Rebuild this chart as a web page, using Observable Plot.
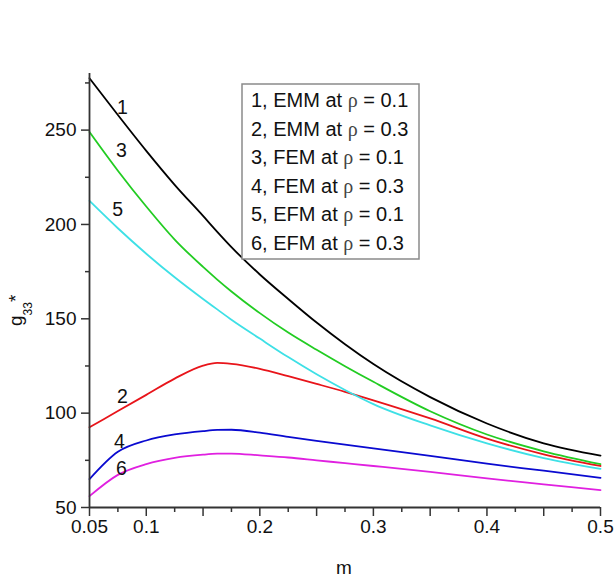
<!DOCTYPE html>
<html>
<head>
<meta charset="utf-8">
<script src="https://cdn.jsdelivr.net/npm/d3@7"></script>
<script src="https://cdn.jsdelivr.net/npm/@observablehq/plot@0.6"></script>
<style>
  html, body { margin: 0; padding: 0; background: #fff; }
  #chart svg { display: block; }
</style>
</head>
<body>
<div id="chart"></div>
<script>
// ---- data ----
const m = [0.05, 0.075, 0.1, 0.125, 0.15, 0.1625, 0.175, 0.2, 0.225, 0.25, 0.275, 0.3, 0.35, 0.4, 0.45, 0.5];

const emm01 = [277.5, 258, 239, 221, 204.5, 196.1, 188, 173.5, 160.5, 148, 136.5, 126, 108.5, 94.5, 84, 77.5];
const emm03 = [92.5, 101.1, 109.7, 118.3, 125.2, 126.6, 126.1, 123.5, 119.6, 115.5, 111.3, 106.8, 97.2, 86.5, 78.2, 72];
const fem01 = [249, 228.5, 209.5, 192, 177.5, 170.8, 164.5, 153, 142.7, 133.6, 124.9, 116.6, 101, 88.7, 79.8, 73];
const fem03 = [65, 79.5, 85.5, 88.7, 90.5, 91.1, 91.2, 89.7, 87.4, 85.3, 83.3, 81.3, 77.4, 73.2, 69.5, 65.7];
const efm01 = [212.5, 198, 184.5, 172, 160.5, 155, 149.5, 139.5, 129.7, 120.6, 112.3, 104.8, 93.5, 84, 76.2, 70.5];
const efm03 = [56, 67.3, 73, 76.3, 78, 78.5, 78.6, 77.6, 76.5, 75, 73.5, 72, 68.9, 65.4, 62.3, 59.2];

const seriesNames = ["1, EMM at ρ = 0.1", "2, EMM at ρ = 0.3", "3, FEM at ρ = 0.1",
                     "4, FEM at ρ = 0.3", "5, EFM at ρ = 0.1", "6, EFM at ρ = 0.3"];
const seriesValues = [emm01, emm03, fem01, fem03, efm01, efm03];
const seriesColors = ["#000000", "#e8141a", "#22cc22", "#0a0ad0", "#3ee0e6", "#e020e0"];

// curve number labels (placed in data coordinates)
const curveLabels = ["1", "3", "5", "2", "4", "6"];
const curveLabelM = [0.0791, 0.0782, 0.0747, 0.0791, 0.0764, 0.0782];
const curveLabelG = [261.6, 238.9, 207.6, 108.9, 85.0, 70.7];

// axis ticks
const xMajorTicks = [0.05, 0.1, 0.15, 0.2, 0.25, 0.3, 0.35, 0.4, 0.45, 0.5];
const xTickLabels = ["0.05", "0.1", "0.2", "0.3", "0.4", "0.5"];
const xMinorTicks = [0.075, 0.125, 0.175, 0.225, 0.275, 0.325, 0.375, 0.425, 0.475];
const yMajorTicks = [50, 100, 150, 200, 250];
const yMinorTicks = [75, 125, 175, 225, 275];

const xDomain = [0.05, 0.5];
const yDomain = [50, 280];

// ---- build ----
const axisColor = "#333";
const font = "'Liberation Sans', Arial, Helvetica, sans-serif";

const lineMarks = seriesValues.map((vals, i) =>
  Plot.line(vals.map((g, j) => ({m: m[j], g})), {
    x: "m", y: "g", stroke: seriesColors[i], strokeWidth: 1.8, curve: "monotone-x"
  })
);

const labelData = curveLabels.map((t, i) => ({t, m: curveLabelM[i], g: curveLabelG[i]}));

const fmtX = d => {
  const s = String(+(+d).toFixed(3));
  return xTickLabels.includes(s) ? s : "";
};

const svg = Plot.plot({
  width: 614,
  height: 582,
  marginLeft: 89,
  marginRight: 14,
  marginTop: 73,
  marginBottom: 75,
  style: {fontFamily: font, fontSize: "19px", color: "#111", background: "#fff"},
  x: {domain: xDomain},
  y: {domain: yDomain},
  marks: [
    ...lineMarks,
    Plot.text(labelData, {x: "m", y: "g", text: "t", fontSize: 19.5, fill: "#111", textAnchor: "middle", lineAnchor: "middle"}),
    Plot.ruleY([yDomain[0]], {stroke: axisColor, strokeWidth: 1.8}),
    Plot.ruleX([xDomain[0]], {stroke: axisColor, strokeWidth: 1.8}),
    Plot.axisX({ticks: xMajorTicks, tickSize: 9, tickPadding: 3, tickFormat: fmtX, label: null,
                stroke: axisColor, strokeWidth: 1.5, fill: "#111"}),
    Plot.axisX({ticks: xMinorTicks, tickSize: 5, tickFormat: () => "", label: null,
                stroke: axisColor, strokeWidth: 1.5}),
    Plot.axisY({ticks: yMajorTicks, tickSize: 8, tickPadding: 5, tickFormat: d3.format("d"), label: null,
                stroke: axisColor, strokeWidth: 1.5, fill: "#111"}),
    Plot.axisY({ticks: yMinorTicks, tickSize: 4, tickFormat: () => "", label: null,
                stroke: axisColor, strokeWidth: 1.5})
  ]
});

document.getElementById("chart").appendChild(svg);

// ---- annotations: legend box, axis titles ----
const s = d3.select(svg);

// legend
const lg = s.append("g").attr("font-family", font).attr("font-size", 20).attr("fill", "#111")
  .attr("text-anchor", "start");
lg.append("rect").attr("x", 242).attr("y", 84).attr("width", 177).attr("height", 175)
  .attr("fill", "#fff").attr("stroke", "#8a8a8a").attr("stroke-width", 1.5);
seriesNames.forEach((name, i) => {
  const [pre, post] = name.split("ρ");
  const t = lg.append("text").attr("x", 251).attr("y", 107 + i * 28.6).attr("text-anchor", "start");
  t.append("tspan").text(pre);
  t.append("tspan").attr("font-family", "'Liberation Serif', 'DejaVu Serif', serif").attr("fill", "#444").text("ρ");
  t.append("tspan").text(post);
});

// y axis title: g33*
const yt = s.append("text").attr("transform", "translate(22,326) rotate(-90)")
  .attr("text-anchor", "start")
  .attr("font-family", font).attr("font-size", 19).attr("fill", "#111");
yt.append("tspan").text("g");
yt.append("tspan").attr("font-size", 12).attr("dy", 10).text("33");
yt.append("tspan").attr("dy", -10).text("*");

// x axis title
s.append("text").attr("x", 344).attr("y", 574).attr("text-anchor", "middle")
  .attr("font-family", font).attr("font-size", 19).attr("fill", "#111").text("m");
</script>
</body>
</html>
